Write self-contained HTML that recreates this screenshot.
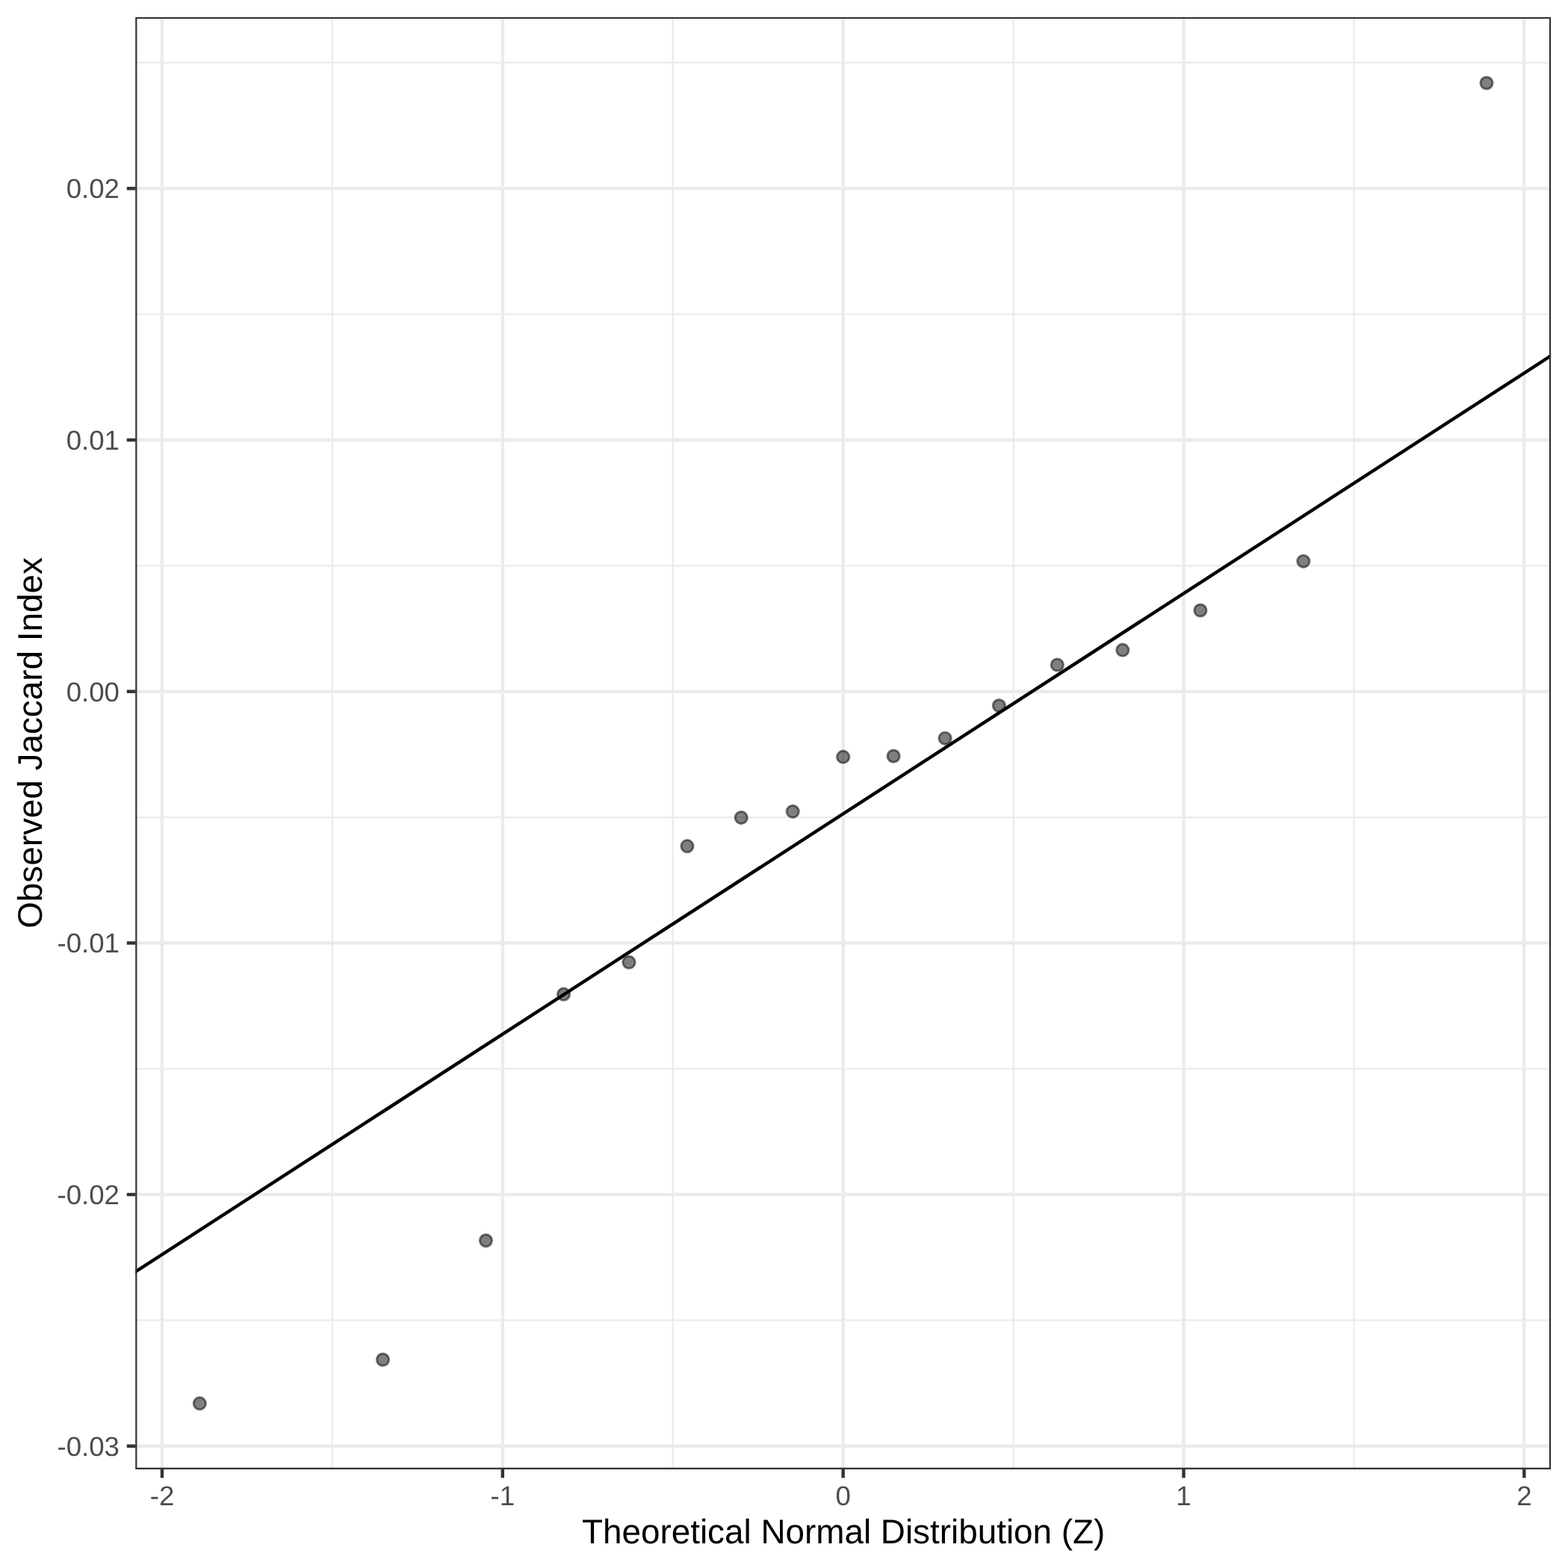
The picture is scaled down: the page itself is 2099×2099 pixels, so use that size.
<!DOCTYPE html>
<html lang="en"><head><meta charset="utf-8"><title>Q-Q plot</title>
<style>html,body{margin:0;padding:0;background:#fff}body{width:2099px;height:2099px;overflow:hidden}svg{display:block}text{font-family:"Liberation Sans",Arial,Helvetica,sans-serif;text-rendering:geometricPrecision}.ax{font-size:36.67px;fill:#4d4d4d}.ti{font-size:45.83px;fill:#000}</style></head><body>
<svg width="2099" height="2099" viewBox="0 0 2099 2099">
<rect width="2099" height="2099" fill="#fff"/>
<defs><clipPath id="p"><rect x="181.2" y="22.9" width="1894.90" height="1944.00"/></clipPath></defs>
<g clip-path="url(#p)">
<g stroke="#ebebeb" stroke-width="2.22" fill="none">
<line x1="181.2" x2="2076.1" y1="83.95" y2="83.95"/>
<line x1="181.2" x2="2076.1" y1="420.65" y2="420.65"/>
<line x1="181.2" x2="2076.1" y1="757.34" y2="757.34"/>
<line x1="181.2" x2="2076.1" y1="1094.03" y2="1094.03"/>
<line x1="181.2" x2="2076.1" y1="1430.72" y2="1430.72"/>
<line x1="181.2" x2="2076.1" y1="1767.40" y2="1767.40"/>
<line y1="22.9" y2="1966.9" x1="444.89" x2="444.89"/>
<line y1="22.9" y2="1966.9" x1="900.73" x2="900.73"/>
<line y1="22.9" y2="1966.9" x1="1356.57" x2="1356.57"/>
<line y1="22.9" y2="1966.9" x1="1812.41" x2="1812.41"/>
</g>
<g stroke="#ebebeb" stroke-width="4.45" fill="none">
<line x1="181.2" x2="2076.1" y1="252.30" y2="252.30"/>
<line x1="181.2" x2="2076.1" y1="588.99" y2="588.99"/>
<line x1="181.2" x2="2076.1" y1="925.68" y2="925.68"/>
<line x1="181.2" x2="2076.1" y1="1262.37" y2="1262.37"/>
<line x1="181.2" x2="2076.1" y1="1599.06" y2="1599.06"/>
<line x1="181.2" x2="2076.1" y1="1935.75" y2="1935.75"/>
<line y1="22.9" y2="1966.9" x1="216.97" x2="216.97"/>
<line y1="22.9" y2="1966.9" x1="672.81" x2="672.81"/>
<line y1="22.9" y2="1966.9" x1="1128.65" x2="1128.65"/>
<line y1="22.9" y2="1966.9" x1="1584.49" x2="1584.49"/>
<line y1="22.9" y2="1966.9" x1="2040.33" x2="2040.33"/>
</g>
<g fill="rgba(0,0,0,0.5)" stroke="rgba(0,0,0,0.5)" stroke-width="2.95">
<circle cx="267.33" cy="1878.70" r="8.15"/>
<circle cx="512.49" cy="1820.10" r="8.15"/>
<circle cx="650.41" cy="1660.60" r="8.15"/>
<circle cx="754.50" cy="1330.95" r="8.15"/>
<circle cx="841.97" cy="1288.20" r="8.15"/>
<circle cx="919.94" cy="1132.70" r="8.15"/>
<circle cx="992.21" cy="1094.50" r="8.15"/>
<circle cx="1061.19" cy="1086.30" r="8.15"/>
<circle cx="1128.65" cy="1013.20" r="8.15"/>
<circle cx="1196.11" cy="1012.15" r="8.15"/>
<circle cx="1265.09" cy="988.30" r="8.15"/>
<circle cx="1337.36" cy="944.60" r="8.15"/>
<circle cx="1415.33" cy="890.00" r="8.15"/>
<circle cx="1502.80" cy="870.20" r="8.15"/>
<circle cx="1606.89" cy="817.10" r="8.15"/>
<circle cx="1744.81" cy="751.30" r="8.15"/>
<circle cx="1989.97" cy="111.10" r="8.15"/>
</g>
<line x1="176.2" y1="1705.71" x2="2081.1" y2="473.05" stroke="#000" stroke-width="4.45"/>
<rect x="181.2" y="22.9" width="1894.90" height="1944.00" fill="none" stroke="#333" stroke-width="4.45"/>
</g>
<g stroke="#333" stroke-width="4.45">
<line x1="169.74" x2="181.2" y1="252.30" y2="252.30"/>
<line x1="169.74" x2="181.2" y1="588.99" y2="588.99"/>
<line x1="169.74" x2="181.2" y1="925.68" y2="925.68"/>
<line x1="169.74" x2="181.2" y1="1262.37" y2="1262.37"/>
<line x1="169.74" x2="181.2" y1="1599.06" y2="1599.06"/>
<line x1="169.74" x2="181.2" y1="1935.75" y2="1935.75"/>
<line y1="1966.9" y2="1978.36" x1="216.97" x2="216.97"/>
<line y1="1966.9" y2="1978.36" x1="672.81" x2="672.81"/>
<line y1="1966.9" y2="1978.36" x1="1128.65" x2="1128.65"/>
<line y1="1966.9" y2="1978.36" x1="1584.49" x2="1584.49"/>
<line y1="1966.9" y2="1978.36" x1="2040.33" x2="2040.33"/>
</g>
<g class="ax" text-anchor="end">
<text x="160.0" y="265.40">0.02</text>
<text x="160.0" y="602.09">0.01</text>
<text x="160.0" y="938.78">0.00</text>
<text x="160.0" y="1275.47">-0.01</text>
<text x="160.0" y="1612.16">-0.02</text>
<text x="160.0" y="1948.85">-0.03</text>
</g>
<g class="ax" text-anchor="middle">
<text x="216.97" y="2014.5">-2</text>
<text x="672.81" y="2014.5">-1</text>
<text x="1128.65" y="2014.5">0</text>
<text x="1584.49" y="2014.5">1</text>
<text x="2040.33" y="2014.5">2</text>
</g>
<text class="ti" text-anchor="middle" x="1129.15" y="2066">Theoretical Normal Distribution (Z)</text>
<text class="ti" text-anchor="middle" transform="translate(56,994.50) rotate(-90)">Observed Jaccard Index</text>
</svg></body></html>
